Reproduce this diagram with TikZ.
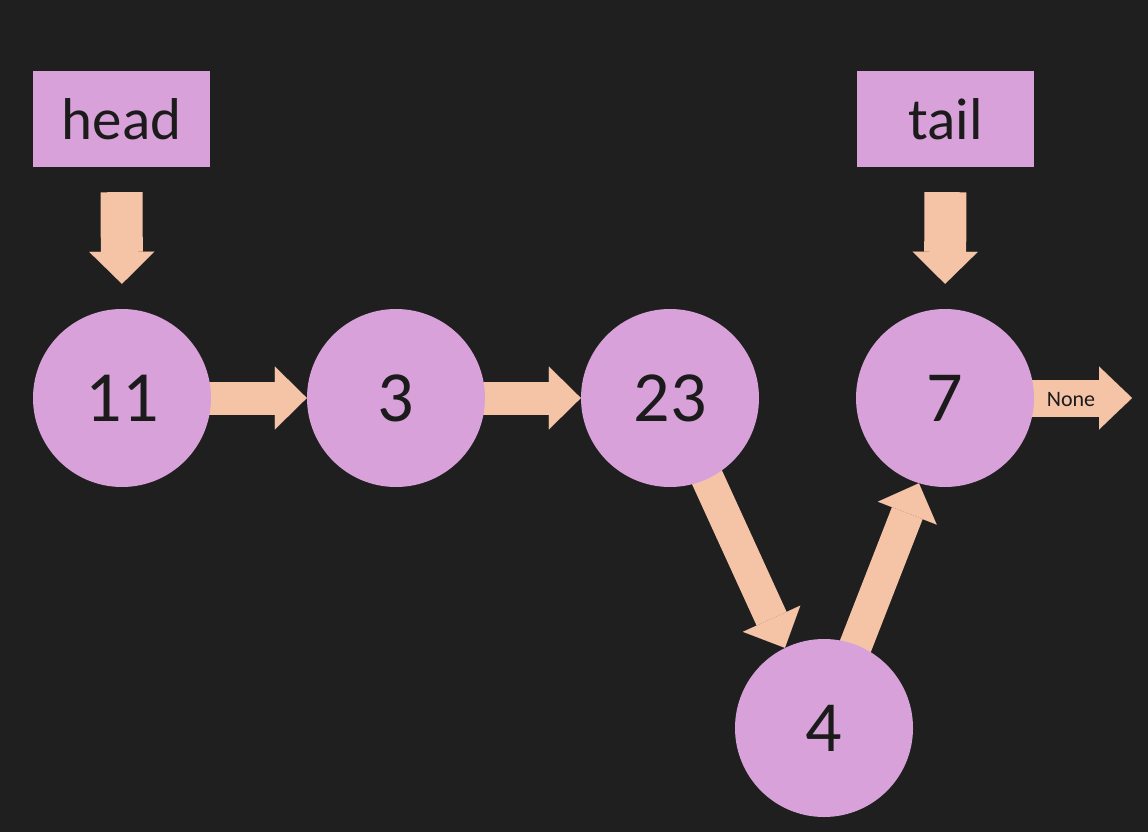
\documentclass[tikz,border=0pt]{standalone}
\usepackage{fontspec}
\setmainfont{Carlito}
\usetikzlibrary{arrows.meta,backgrounds}
\definecolor{bgc}{HTML}{1F1F1F}
\definecolor{nodec}{HTML}{D9A1DA}
\definecolor{arrowc}{HTML}{F5C3A6}
\definecolor{inkc}{HTML}{1B1B1B}
\tikzset{
  listnode/.style={circle, fill=nodec, minimum size=178pt, inner sep=0pt,
    text=inkc, font=\fontsize{72}{72}\selectfont},
  labelbox/.style={rectangle, fill=nodec, minimum width=177pt, minimum height=96pt,
    inner sep=0pt, text=inkc, font=\fontsize{59}{59}\selectfont},
  link/.style={draw=arrowc, line width=33pt,
    -{Triangle[length=32pt, width=63pt, line width=0.01pt]}},
  pointer/.style={draw=arrowc, line width=42pt,
    -{Triangle[length=32pt, width=65pt, line width=0.01pt]}},
  endlink/.style={draw=arrowc, line width=37pt,
    -{Triangle[length=33pt, width=63pt, line width=0.01pt]}},
}
\begin{document}
\begin{tikzpicture}[x=1pt, y=-1pt]
  \useasboundingbox (0,0) rectangle (1148,832);

  % list cells
  \node[listnode] (n11) at (122,398) {11};
  \node[listnode] (n3)  at (396,398) {3};
  \node[listnode] (n23) at (670,398) {23};
  \node[listnode] (n7)  at (945,398) {7};
  \node[listnode] (n4)  at (824,728) {4};

  % head and tail labels
  \node[labelbox] (head) at (121.5,119) {head};
  \node[labelbox] (tail) at (945.5,119) {tail};

  \coordinate (nullend) at (1132,398);

  \begin{scope}[on background layer]
    \fill[bgc] (0,0) rectangle (1148,832);
    % pointers into the list
    \draw[pointer, shorten <=25pt, shorten >=25pt] (head.south) -- (n11.north);
    \draw[pointer, shorten <=25pt, shorten >=25pt] (tail.south) -- (n7.north);
    % next links
    \draw[link, shorten <=-10pt] (n11.east) -- (n3.west);
    \draw[link, shorten <=-10pt] (n3.east) -- (n23.west);
    \draw[link, shorten <=-10pt] (n23.-65) -- (n4.116);
    \draw[link, shorten <=-10pt] (n4.69) -- (n7.-107);
    \draw[endlink, shorten <=-10pt] (n7.east) -- (nullend);
  \end{scope}
  \node[text=inkc, font=\fontsize{22}{22}\selectfont] (none) at (1071,400) {None};
\end{tikzpicture}
\end{document}
